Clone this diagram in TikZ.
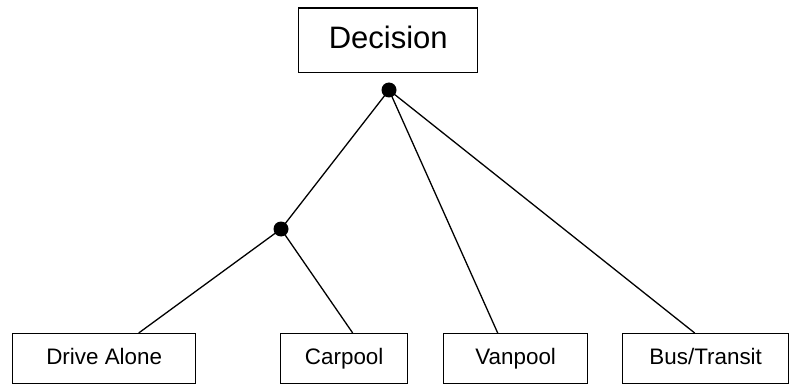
\documentclass[tikz,border=0pt]{standalone}
\usepackage{fontspec}
\setmainfont{Liberation Sans}
\begin{document}
\begin{tikzpicture}[x=1pt,y=-1pt,
  boxstyle/.style={draw,line width=1.4pt,inner sep=0pt,anchor=north west},
  leafstyle/.style={boxstyle,minimum height=50pt,font=\fontsize{22.4}{26}\selectfont,text height=15pt,text depth=4pt},
  dotstyle/.style={circle,fill=black,inner sep=0pt,minimum size=15pt},
  linkstyle/.style={line width=1.3pt}]
\useasboundingbox (0,0) rectangle (790,385);
\node[boxstyle,minimum width=179pt,minimum height=64.5pt,font=\fontsize{31}{36}\selectfont,text height=23pt,text depth=6pt] (dec) at (298,7.5) {Decision};
\node[dotstyle] (d1) at (389,90) {};
\node[dotstyle] (d2) at (281,229) {};
\node[leafstyle,minimum width=183pt] (da) at (12,333) {Drive Alone};
\node[leafstyle,minimum width=127pt] (cp) at (280,333) {Carpool};
\node[leafstyle,minimum width=144pt] (vp) at (443,333) {Vanpool};
\node[leafstyle,minimum width=166pt] (bt) at (622,333) {Bus/Transit};
\draw[linkstyle] (d1.center) -- (d2.center);
\draw[linkstyle] (d1.center) -- ([xshift=-18pt]vp.north);
\draw[linkstyle] (d1.center) -- ([xshift=-11pt]bt.north);
\draw[linkstyle] (d2.center) -- ([xshift=34.5pt]da.north);
\draw[linkstyle] (d2.center) -- ([xshift=8.5pt]cp.north);
\end{tikzpicture}
\end{document}
